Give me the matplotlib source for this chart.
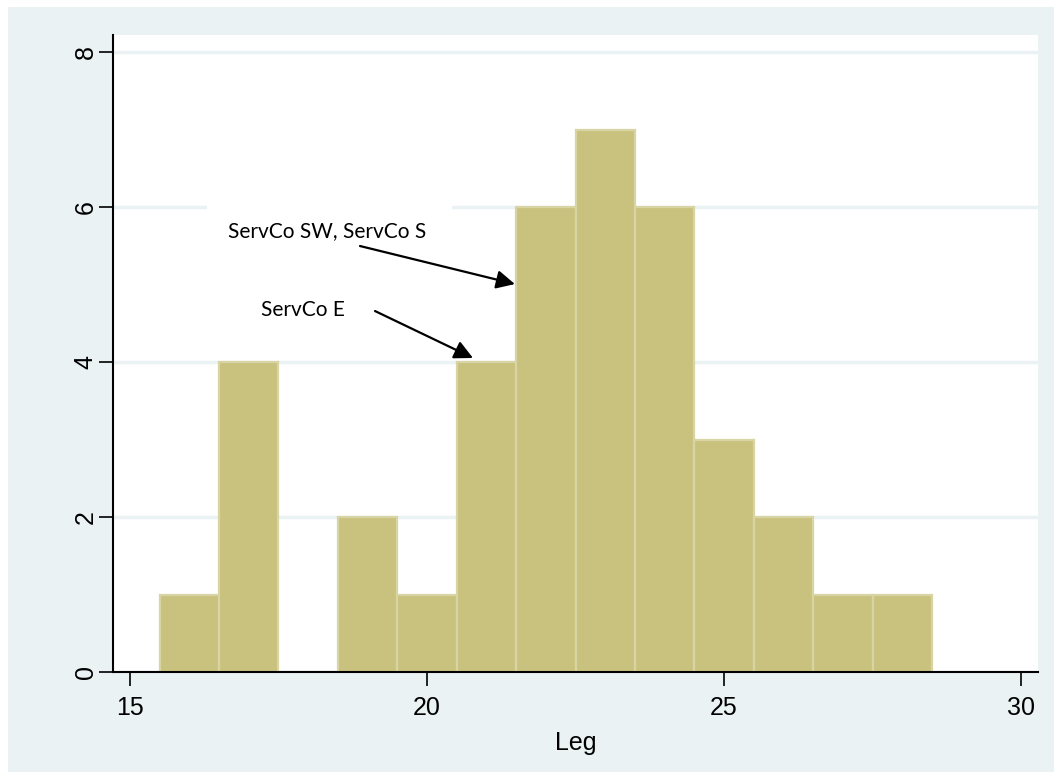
import matplotlib
matplotlib.use("Agg")
import matplotlib.pyplot as plt
from matplotlib.patches import Rectangle

# Data
bin_centers = [16, 17, 18, 19, 20, 21, 22, 23, 24, 25, 26, 27, 28]
counts = [1, 4, 0, 2, 1, 4, 6, 7, 6, 3, 2, 1, 1]
x_ticks = [15, 20, 25, 30]
y_ticks = [0, 2, 4, 6, 8]
x_label = "Leg"
ann_texts = ["ServCo SW, ServCo S", "ServCo E"]
ann_text_pos = [(16.65, 5.69), (17.205, 4.665)]
ann_arrow_start = [(18.872, 5.497), (19.125, 4.658)]
ann_arrow_end = [(21.48, 5.006), (20.774, 4.052)]

W, H = 1054, 772
fig = plt.figure(figsize=(W / 100, H / 100), dpi=100, facecolor="white")
bg = Rectangle((8 / W, 0), 1 - 8 / W, 1 - 7 / H, transform=fig.transFigure,
               facecolor="#EAF2F3", edgecolor="none", zorder=-10)
fig.patches.append(bg)

ax = fig.add_axes([113 / W, 100 / H, (1038 - 113) / W, (672 - 35) / H])
ax.set_facecolor("white")

ax.bar(bin_centers, counts, width=1.0, color="#C9C27F", edgecolor="#D9D4A3",
       linewidth=1.6, zorder=2)

ax.set_xlim(14.714, 30.286)
ax.set_ylim(0, 8.22)
ax.set_xticks(x_ticks)
ax.set_yticks(y_ticks)
ax.yaxis.grid(True, color="#EAF2F3", linewidth=2.5, zorder=0.5)
ax.set_axisbelow(True)

for s in ["top", "right"]:
    ax.spines[s].set_visible(False)
for s in ["left", "bottom"]:
    ax.spines[s].set_linewidth(1.5)
    ax.spines[s].set_color("black")

font = "Liberation Sans"
ax.tick_params(axis="both", length=10, width=1.2, color="black", labelsize=18)
ax.tick_params(axis="x", pad=7)
ax.tick_params(axis="y", pad=1)
for lab in ax.get_xticklabels():
    lab.set_fontfamily(font)
for lab in ax.get_yticklabels():
    lab.set_fontfamily(font)
    lab.set_rotation(90)
    lab.set_va("center")

ax.set_xlabel(x_label, fontsize=18, fontfamily=font, labelpad=8)

# white box behind first annotation
ax.add_patch(Rectangle((16.296, 5.4), 20.42 - 16.296, 0.75, facecolor="white",
                       edgecolor="none", zorder=1))

for t, (tx, ty) in zip(ann_texts, ann_text_pos):
    ax.text(tx, ty, t, fontsize=15, fontfamily="Lato", ha="left", va="center",
            zorder=4)
for (sx, sy), (ex, ey) in zip(ann_arrow_start, ann_arrow_end):
    ax.annotate("", xy=(ex, ey), xytext=(sx, sy),
                arrowprops=dict(arrowstyle="-|>", color="black", lw=1.6,
                                mutation_scale=28, shrinkA=0, shrinkB=0),
                zorder=5)

fig.savefig("out.png", dpi=100, facecolor="white")
